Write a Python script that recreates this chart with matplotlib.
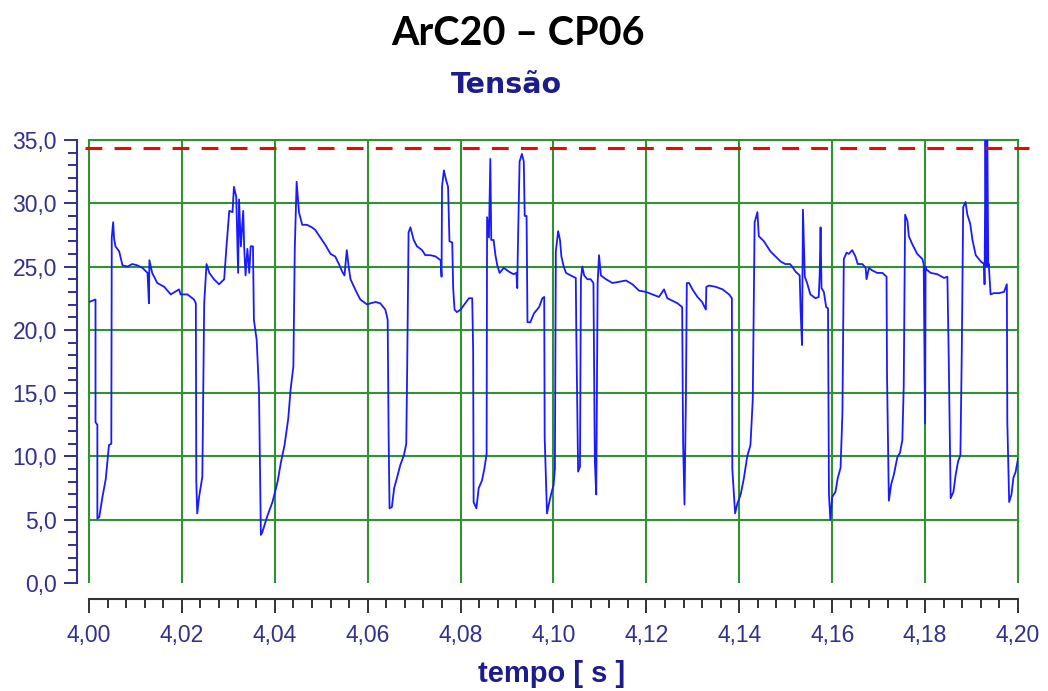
import matplotlib.pyplot as plt
from matplotlib.ticker import MultipleLocator

# Tensão do arco, lida ponto a ponto do oscilograma (tempo em s, tensão em V)
tempo = [
    4.0000, 4.0014, 4.0014, 4.0018, 4.0018, 4.0022, 4.0029, 4.0036, 4.0043, 4.0048,
    4.0049, 4.0052, 4.0054, 4.0057, 4.0065, 4.0072, 4.0083, 4.0093, 4.0104, 4.0115,
    4.0126, 4.0129, 4.0130, 4.0136, 4.0147, 4.0162, 4.0176, 4.0194, 4.0197, 4.0212,
    4.0226, 4.0230, 4.0231, 4.0233, 4.0237, 4.0244, 4.0248, 4.0253, 4.0259, 4.0269,
    4.0280, 4.0291, 4.0296, 4.0302, 4.0309, 4.0312, 4.0317, 4.0321, 4.0323, 4.0327,
    4.0332, 4.0334, 4.0337, 4.0341, 4.0345, 4.0348, 4.0353, 4.0355, 4.0361, 4.0366,
    4.0370, 4.0373, 4.0384, 4.0395, 4.0406, 4.0413, 4.0421, 4.0429, 4.0434, 4.0440,
    4.0443, 4.0447, 4.0452,
    4.0459, 4.0469, 4.0480, 4.0487, 4.0498, 4.0509, 4.0520, 4.0530, 4.0538, 4.0545,
    4.0550, 4.0555, 4.0559, 4.0563, 4.0573, 4.0584, 4.0599, 4.0606, 4.0617, 4.0627,
    4.0638, 4.0643, 4.0645, 4.0647, 4.0652, 4.0657, 4.0663, 4.0670, 4.0678, 4.0683,
    4.0685, 4.0688, 4.0692, 4.0699, 4.0706, 4.0717, 4.0724, 4.0735, 4.0746, 4.0757,
    4.0759, 4.0760, 4.0764, 4.0769, 4.0773, 4.0776, 4.0782, 4.0784, 4.0787, 4.0792,
    4.0800, 4.0810, 4.0818, 4.0825, 4.0827, 4.0828, 4.0834, 4.0839, 4.0846, 4.0851,
    4.0856, 4.0857, 4.0861, 4.0864, 4.0866, 4.0871, 4.0875, 4.0879, 4.0884, 4.0893,
    4.0904, 4.0914, 4.0920, 4.0922, 4.0923, 4.0927, 4.0932, 4.0936, 4.0938, 4.0942,
    4.0944, 4.0950,
    4.0958, 4.0969, 4.0976, 4.0980, 4.0981, 4.0986, 4.0991, 4.0996, 4.1000, 4.1003,
    4.1005, 4.1010, 4.1014, 4.1017, 4.1022, 4.1027, 4.1037, 4.1048, 4.1049, 4.1053,
    4.1057, 4.1059, 4.1062, 4.1066, 4.1073, 4.1080, 4.1086, 4.1089, 4.1092, 4.1095,
    4.1098, 4.1102, 4.1113, 4.1127, 4.1141, 4.1156, 4.1170, 4.1184, 4.1199, 4.1213,
    4.1227, 4.1238, 4.1245, 4.1256, 4.1267, 4.1277, 4.1279, 4.1282, 4.1285, 4.1287,
    4.1292, 4.1299, 4.1310, 4.1320, 4.1328, 4.1329, 4.1335, 4.1349, 4.1364, 4.1378,
    4.1384, 4.1385, 4.1391, 4.1396, 4.1403, 4.1410, 4.1417, 4.1424, 4.1429, 4.1433,
    4.1439, 4.1442,
    4.1453, 4.1467, 4.1478, 4.1489, 4.1499, 4.1509, 4.1514, 4.1521, 4.1530, 4.1532,
    4.1535, 4.1537, 4.1539, 4.1541, 4.1546, 4.1553, 4.1564, 4.1571, 4.1573, 4.1575,
    4.1577, 4.1582, 4.1587, 4.1591, 4.1593, 4.1596, 4.1600, 4.1607, 4.1612, 4.1618,
    4.1622, 4.1625, 4.1631, 4.1636, 4.1643, 4.1650, 4.1655, 4.1665, 4.1672, 4.1674,
    4.1679, 4.1686, 4.1697, 4.1708, 4.1717, 4.1718, 4.1722, 4.1727, 4.1733, 4.1740,
    4.1746, 4.1751, 4.1754, 4.1757, 4.1762, 4.1765, 4.1772, 4.1783, 4.1794, 4.1797,
    4.1799, 4.1800, 4.1801, 4.1802, 4.1812, 4.1826, 4.1841, 4.1848, 4.1851, 4.1855,
    4.1861, 4.1866, 4.1871, 4.1876, 4.1879, 4.1882, 4.1887, 4.1891, 4.1897, 4.1902,
    4.1909, 4.1920, 4.1927, 4.1928, 4.1930, 4.1932, 4.1934, 4.1936, 4.1937, 4.1941,
    4.1948, 4.1959, 4.1970, 4.1976, 4.1977, 4.1981, 4.1986, 4.1990, 4.1995, 4.2000,
]
tensao = [
    22.2, 22.4, 12.7, 12.5, 5.1, 5.2, 6.8, 8.2, 10.9, 11.0,
    27.3, 28.5, 27.2, 26.6, 26.2, 25.1, 25.0, 25.2, 25.1, 24.9,
    24.5, 22.1, 25.5, 24.5, 23.7, 23.4, 22.8, 23.2, 22.8, 22.8,
    22.4, 22.1, 8.0, 5.5, 6.8, 8.4, 22.1, 25.2, 24.5, 24.0,
    23.6, 24.0, 26.6, 29.4, 29.3, 31.3, 30.5, 24.5, 30.3, 26.6,
    29.4, 26.6, 24.3, 26.4, 24.5, 26.6, 26.6, 20.8, 19.2, 15.1,
    3.8, 4.0, 5.3, 6.4, 8.0, 9.5, 10.9, 13.0, 15.3, 17.1,
    26.4, 31.7, 29.3,
    28.3, 28.3, 28.1, 27.9, 27.3, 26.7, 26.0, 25.8, 25.2, 24.6,
    24.3, 26.3, 25.0, 24.0, 23.2, 22.4, 22.0, 22.1, 22.2, 22.1,
    21.6, 20.8, 11.8, 5.9, 6.0, 7.5, 8.3, 9.3, 10.1, 11.0,
    17.0, 27.7, 28.1, 27.1, 26.6, 26.3, 25.9, 25.9, 25.8, 25.5,
    24.2, 31.3, 32.6, 31.8, 31.3, 27.0, 26.9, 23.3, 21.6, 21.4,
    21.6, 22.1, 22.5, 22.5, 18.4, 6.4, 5.9, 7.5, 8.1, 9.0,
    10.2, 28.9, 27.3, 33.5, 27.1, 27.1, 25.9, 25.1, 24.5, 24.9,
    24.6, 24.4, 24.5, 23.3, 25.9, 33.3, 33.9, 33.3, 29.0, 29.0,
    20.6, 20.6,
    21.3, 21.8, 22.5, 22.6, 11.5, 5.5, 6.4, 7.2, 7.7, 9.0,
    26.2, 27.8, 27.1, 25.8, 25.0, 24.5, 24.3, 24.1, 20.0, 8.8,
    9.2, 24.0, 25.0, 24.3, 24.0, 24.0, 23.7, 9.6, 7.0, 23.7,
    25.9, 24.3, 24.0, 23.7, 23.8, 23.9, 23.6, 23.1, 23.0, 22.8,
    22.6, 23.2, 22.5, 22.3, 22.1, 21.8, 11.1, 6.2, 14.5, 23.7,
    23.7, 23.2, 22.6, 22.2, 21.6, 23.4, 23.5, 23.4, 23.2, 22.8,
    22.5, 9.0, 5.5, 6.3, 7.0, 8.3, 10.0, 10.9, 14.5, 28.5,
    29.3, 27.4,
    27.0, 26.2, 25.8, 25.4, 25.2, 25.2, 25.0, 24.6, 24.3, 21.5,
    18.8, 29.5, 26.8, 24.2, 23.7, 22.8, 22.5, 22.6, 24.3, 28.1,
    23.3, 23.0, 21.8, 21.7, 7.0, 5.0, 6.8, 7.2, 8.3, 9.1,
    13.4, 25.6, 26.1, 26.0, 26.3, 25.8, 25.2, 25.2, 24.9, 24.0,
    24.9, 24.7, 24.5, 24.5, 24.2, 16.5, 6.5, 7.8, 8.6, 9.9,
    10.3, 11.3, 15.6, 29.1, 28.6, 27.4, 26.8, 26.0, 25.6, 25.2,
    16.3, 12.6, 25.0, 24.8, 24.5, 24.4, 24.1, 24.2, 17.5, 6.7,
    7.2, 8.6, 9.6, 10.1, 18.4, 29.7, 30.1, 29.1, 28.4, 27.1,
    25.9, 25.4, 25.2, 23.6, 35.0, 25.0, 35.0, 25.0, 25.2, 22.8,
    22.9, 22.9, 23.0, 23.6, 12.7, 6.4, 7.0, 8.3, 8.8, 9.8,
]
limite = 34.35

x_ticks = [4.00, 4.02, 4.04, 4.06, 4.08, 4.10, 4.12, 4.14, 4.16, 4.18, 4.20]
x_labels = ["4,00", "4,02", "4,04", "4,06", "4,08", "4,10", "4,12", "4,14", "4,16", "4,18", "4,20"]
y_ticks = [0, 5, 10, 15, 20, 25, 30, 35]
y_labels = ["0,0", "5,0", "10,0", "15,0", "20,0", "25,0", "30,0", "35,0"]

navy = "#30308f"
green = "#2f932f"

plt.rcParams["font.family"] = ["Liberation Sans", "DejaVu Sans"]

fig = plt.figure(figsize=(10.48, 6.91), dpi=100)
ax = fig.add_axes([89 / 1048, 1 - 583 / 691, (1018 - 89) / 1048, (583 - 140) / 691])
ax.set_xlim(4.0, 4.2)
ax.set_ylim(0, 35)

# grade verde
for y in y_ticks[1:]:
    ax.axhline(y, color=green, lw=1.5, zorder=1, clip_on=False)
ax.vlines(x_ticks, 0, 35, color=green, lw=1.5, zorder=1, clip_on=False)

ax.plot(tempo, tensao, color="#1a1aff", lw=1.3, zorder=3)
ax.axhline(limite, xmin=-0.004, xmax=1.012, color="#ff0000", lw=2.2,
           dashes=(5.5, 4), clip_on=False, zorder=4)

# eixos
ax.spines["top"].set_visible(False)
ax.spines["right"].set_visible(False)
ax.spines["left"].set_position(("outward", 8.6))
ax.spines["left"].set_color(navy)
ax.spines["left"].set_linewidth(1.5)
ax.spines["bottom"].set_position(("outward", 11.5))
ax.spines["bottom"].set_color("#333333")
ax.spines["bottom"].set_linewidth(1.5)

ax.set_xticks(x_ticks)
ax.set_xticklabels(x_labels)
ax.set_yticks(y_ticks)
ax.set_yticklabels(y_labels)
ax.xaxis.set_minor_locator(MultipleLocator(0.004))
ax.yaxis.set_minor_locator(MultipleLocator(1))

ax.tick_params(axis="y", which="major", length=9.4, width=1.4, color=navy,
               labelcolor=navy, labelsize=16.5, pad=5)
ax.tick_params(axis="y", which="minor", length=6.5, width=1.4, color=navy)
ax.tick_params(axis="x", which="major", length=10, width=1.4, color="#333333",
               labelcolor=navy, labelsize=16.5, pad=8)
ax.tick_params(axis="x", which="minor", length=6.5, width=1.4, color="#333333")

fig.text(0.494, 1 - 45 / 691, "ArC20 \u2013 CP06", ha="center", va="baseline",
         fontsize=28.5, fontweight="bold", family="Lato", color="black")
fig.text(0.483, 1 - 93 / 691, "Tens\u00e3o", ha="center", va="baseline",
         fontsize=20.5, fontweight="bold", family="DejaVu Sans", color="#1c1c8a")
fig.text(0.526, 1 - 682 / 691, "tempo [ s ]", ha="center", va="baseline",
         fontsize=21, fontweight="bold", color="#1c1c8a")

plt.savefig("out.png", dpi=100)
plt.close()
